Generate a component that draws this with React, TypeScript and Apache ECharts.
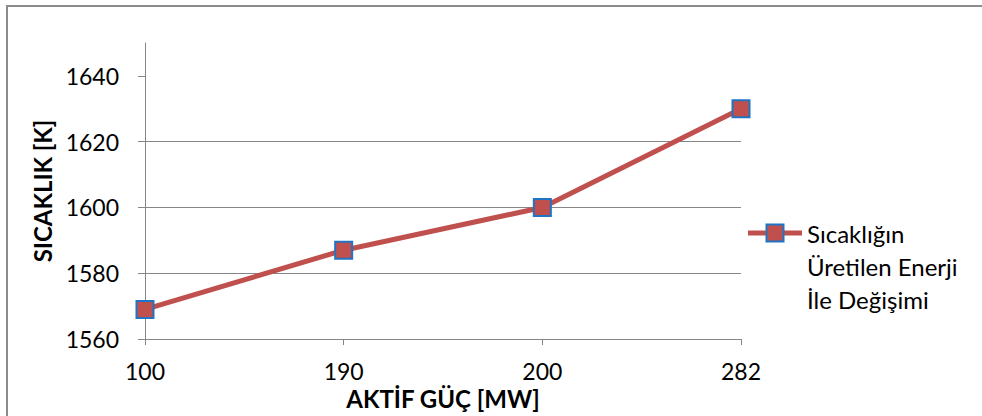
import React, { useEffect, useRef } from "react";
import * as echarts from "echarts";

const categories = ["100", "190", "200", "282"];
const temperatures = [1569, 1587, 1600, 1630];
const yTicks = [1560, 1580, 1600, 1620, 1640];
const seriesName = "Sıcaklığın\nÜretilen Enerji\nİle Değişimi";
const xTitle = "AKTİF GÜÇ [MW]";
const yTitle = "SICAKLIK [K]";

const FONT = "Lato, 'Noto Sans', sans-serif";
const LINE = "#C0504D";
const BORDER_BLUE = "#1F74C4";
const GRAY = "#868686";

export default function App() {
  const ref = useRef<HTMLDivElement>(null);
  useEffect(() => {
    document.body.style.margin = "0";
    if (!ref.current) return;
    const chart = echarts.init(ref.current, null, { renderer: "svg" });
    chart.setOption({
      animation: false,
      backgroundColor: "#ffffff",
      textStyle: { fontFamily: FONT },
      grid: { left: 145, right: 241, top: 43, bottom: 77, containLabel: false },
      xAxis: {
        type: "category",
        data: categories,
        boundaryGap: false,
        name: xTitle,
        nameLocation: "middle",
        nameGap: 47,
        nameTextStyle: { fontFamily: FONT, fontWeight: "bold", fontSize: 24, color: "#000" },
        axisLine: { lineStyle: { color: GRAY, width: 1 } },
        axisTick: { show: true, length: 6, lineStyle: { color: GRAY } },
        axisLabel: { fontFamily: FONT, fontSize: 23, color: "#000", margin: 20 },
        splitLine: { show: false },
      },
      yAxis: {
        type: "value",
        min: 1560,
        max: 1650,
        interval: 20,
        name: yTitle,
        nameLocation: "middle",
        nameRotate: 90,
        nameGap: 86,
        nameTextStyle: { fontFamily: FONT, fontWeight: "bold", fontSize: 24, color: "#000" },
        axisLine: { show: true, lineStyle: { color: GRAY, width: 1 } },
        axisTick: { show: true, length: 7, lineStyle: { color: GRAY }, customValues: yTicks },
        axisLabel: {
          fontFamily: FONT,
          fontSize: 23,
          color: "#000",
          margin: 26,
          customValues: yTicks,
          formatter: (v: number) => String(v),
        },
        splitLine: { show: true, showMaxLine: false, lineStyle: { color: GRAY, width: 1 } },
      },
      series: [
        {
          name: seriesName,
          type: "line",
          data: temperatures,
          symbol: "rect",
          symbolSize: 17,
          lineStyle: { color: LINE, width: 5 },
          itemStyle: { color: LINE, borderColor: BORDER_BLUE, borderWidth: 2 },
        },
      ],
      graphic: [
        { type: "line", shape: { x1: 6, y1: 6, x2: 982, y2: 6 }, style: { stroke: "#8c8c8c", lineWidth: 2 } },
        { type: "line", shape: { x1: 7, y1: 6, x2: 7, y2: 416 }, style: { stroke: "#8c8c8c", lineWidth: 2 } },
        { type: "line", shape: { x1: 748, y1: 233, x2: 802, y2: 233 }, style: { stroke: LINE, lineWidth: 5 } },
        {
          type: "rect",
          shape: { x: 766.5, y: 224.5, width: 17, height: 17 },
          style: { fill: LINE, stroke: BORDER_BLUE, lineWidth: 2 },
        },
        {
          type: "text",
          x: 807,
          y: 216.5,
          style: {
            text: seriesName,
            fontFamily: FONT,
            fontSize: 24,
            lineHeight: 33,
            fill: "#000",
            verticalAlign: "top",
            align: "left",
          },
        },
      ],
    });
    return () => chart.dispose();
  }, []);
  return <div ref={ref} style={{ width: 982, height: 416 }} />;
}
